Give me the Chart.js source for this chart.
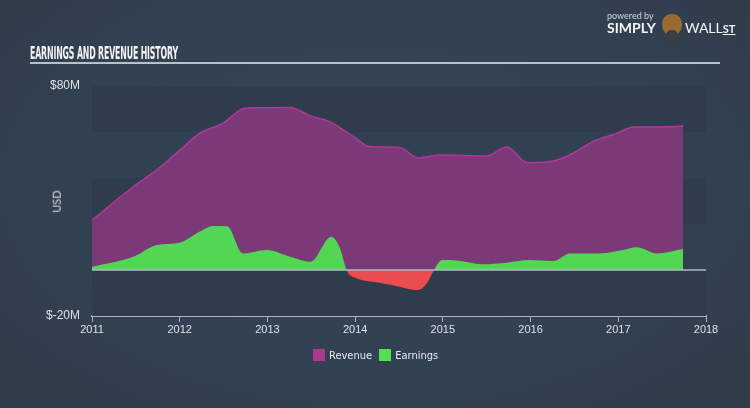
<!DOCTYPE html>
<html>
<head>
<meta charset="utf-8">
<title>Earnings and Revenue History</title>
<script src="https://cdn.jsdelivr.net/npm/chart.js"></script>
<style>
    html, body {
        margin: 0;
        padding: 0;
    }
    body {
        width: 750px;
        height: 408px;
        overflow: hidden;
        position: relative;
        background: radial-gradient(ellipse at 50% 45%, #374759 0%, #334252 55%, #2e3b49 100%);
        font-family: "Liberation Sans Narrow", "DejaVu Sans Condensed", sans-serif;
        color: #e2e6ea;
    }
    #wrap {
        position: absolute;
        left: 0;
        top: 0;
        width: 750px;
        height: 408px;
    }
    .title {
        position: absolute;
        left: 30px;
        top: 43px;
        font-size: 17px;
        font-weight: bold;
        color: #f2f4f6;
        white-space: nowrap;
        transform-origin: left top;
        letter-spacing: -0.3px;
    }
    .rule {
        position: absolute;
        left: 30px;
        top: 62px;
        width: 690px;
        height: 2px;
        background: #b9c2cc;
    }
    .usd {
        position: absolute;
        left: 45px;
        top: 195px;
        font-size: 11px;
        color: #d7dce2;
        transform: rotate(-90deg);
        transform-origin: center;
        font-family: "Lato", sans-serif;
    }
    .logo-small {
        position: absolute;
        left: 607px;
        top: 10px;
        font-size: 9px;
        color: #cfd5dc;
        font-family: "Lato", sans-serif;
    }
    .logo-simply {
        position: absolute;
        left: 607px;
        top: 19px;
        font-size: 14px;
        font-weight: bold;
        color: #f4f5f7;
        font-family: "Lato", sans-serif;
    }
    .logo-wall {
        position: absolute;
        left: 685px;
        top: 19px;
        font-size: 14px;
        color: #f4f5f7;
        font-family: "Lato", sans-serif;
    }
    .logo-wall b {
        text-decoration: underline;
        font-size: 11px;
    }
    .bull {
        position: absolute;
        left: 662px;
        top: 14px;
        width: 20px;
        height: 22px;
        border-radius: 45% 45% 50% 50%;
        background: #9a6a32;
    }
    .bull:after {
        content: "";
        position: absolute;
        left: 3px;
        top: 16px;
        width: 14px;
        height: 14px;
        border-radius: 50% 50% 20% 20%;
        background: #3a3e44;
    }
    .legend {
        position: absolute;
        top: 349px;
        left: 313px;
        font-size: 11px;
        color: #e6e9ed;
        white-space: nowrap;
    }
    .legend span.box {
        display: inline-block;
        width: 12px;
        height: 12px;
        vertical-align: -2px;
        margin-right: 4px;
    }
    .legend span.item {
        margin-right: 4px;
    }
</style>
</head>
<body>
<div id="wrap"><canvas id="chart" width="750" height="408"></canvas></div>
<div class="logo-small">powered by</div>
<div class="logo-simply">SIMPLY</div>
<div class="bull"></div>
<div class="logo-wall">WALL<b>ST</b></div>
<div class="title" id="title">EARNINGS AND REVENUE HISTORY</div>
<div class="rule"></div>
<div class="usd">USD</div>
<div class="legend">
    <span class="item"><span class="box" style="background:#b0378f"></span>Revenue</span>
    <span class="item"><span class="box" style="background:#55e052"></span>Earnings</span>
</div>

<script>
    // values in $M, x in decimal years
    const revenueYears = [2011.0, 2011.47, 2011.74, 2012.0, 2012.23, 2012.5, 2012.69, 2012.77, 2013.26, 2013.49,
        2013.71, 2013.98, 2014.17, 2014.51, 2014.72, 2014.97, 2015.5, 2015.73, 2015.96, 2016.26,
        2016.48, 2016.71, 2016.99, 2017.17, 2017.44, 2017.74];
    const revenueValues = [21.7, 36.2, 43.5, 52, 59.5, 64, 69.6, 70.4, 70.6, 67,
        64.5, 58, 53.6, 53.3, 48.7, 50, 49.6, 53.5, 46.7, 47.4,
        50.7, 55.8, 59.5, 62.2, 62.2, 62.6];

    const earningsYears = [2011.0, 2011.47, 2011.74, 2012.0, 2012.23, 2012.38, 2012.54, 2012.72, 2012.99, 2013.26,
        2013.49, 2013.73, 2013.82, 2013.91, 2014.01, 2014.27, 2014.42, 2014.72, 2014.82, 2014.89,
        2014.99, 2015.16, 2015.45, 2015.73, 2015.99, 2016.26, 2016.45, 2016.79, 2017.05, 2017.21,
        2017.44, 2017.74];
    const earningsValues = [1.4, 5.8, 10.9, 11.9, 16.7, 19.1, 19, 7.2, 8.7, 5.8,
        3.6, 14.5, 10.1, -0.7, -3.5, -5.5, -6.5, -8.7, -5.7, -0.7,
        4.3, 4.1, 2.5, 3.2, 4.3, 3.9, 7.2, 7.2, 8.7, 9.9,
        7.2, 9.1];

    const yearTicks = [2011, 2012, 2013, 2014, 2015, 2016, 2017, 2018];
    const yLabels = { 80: '$80M', '-20': '$-20M' };

    // squeeze title into its width
    const t = document.getElementById('title');
    t.style.transform = 'scaleX(' + (148 / t.offsetWidth) + ')';

    const bands = {
        id: 'bands',
        beforeDatasetsDraw(chart) {
            const { ctx, chartArea, scales } = chart;
            const y = scales.y;
            ctx.save();
            for (let v = 80; v > -20; v -= 20) {
                const top = y.getPixelForValue(v);
                const bottom = y.getPixelForValue(v - 20);
                ctx.fillStyle = (v === 80 || v === 40 || v === 0) ? '#2e3c4b' : '#324152';
                ctx.fillRect(chartArea.left, top, chartArea.right - chartArea.left, bottom - top);
            }
            ctx.restore();
        },
        afterDatasetsDraw(chart) {
            const { ctx, chartArea, scales } = chart;
            const zy = scales.y.getPixelForValue(0);
            ctx.save();
            ctx.strokeStyle = '#b0b9c3';
            ctx.lineWidth = 1.5;
            ctx.beginPath();
            ctx.moveTo(chartArea.left, zy);
            ctx.lineTo(chartArea.right, zy);
            ctx.stroke();
            ctx.restore();
        }
    };

    new Chart(document.getElementById('chart').getContext('2d'), {
        type: 'line',
        data: {
            datasets: [
                {
                    label: 'Revenue',
                    data: revenueYears.map((x, i) => ({ x: x, y: revenueValues[i] })),
                    borderColor: '#b2379a',
                    borderWidth: 1.5,
                    backgroundColor: '#7b3a77',
                    fill: 'origin',
                    pointRadius: 0,
                    cubicInterpolationMode: 'monotone',
                    order: 1
                },
                {
                    label: 'Earnings',
                    data: earningsYears.map((x, i) => ({ x: x, y: earningsValues[i] })),
                    borderWidth: 0,
                    borderColor: 'rgba(0,0,0,0)',
                    fill: { target: 'origin', above: '#52d653', below: '#ea4d50' },
                    pointRadius: 0,
                    cubicInterpolationMode: 'monotone',
                    order: 0
                }
            ]
        },
        options: {
            responsive: false,
            animation: false,
            layout: { padding: { left: 0, right: 44, top: 86, bottom: 0 } },
            plugins: {
                legend: { display: false },
                tooltip: { enabled: false }
            },
            scales: {
                x: {
                    type: 'linear',
                    min: 2011,
                    max: 2018,
                    afterFit(scale) { scale.height = 92; },
                    afterBuildTicks(scale) { scale.ticks = yearTicks.map(v => ({ value: v })); },
                    ticks: {
                        color: '#dde2e7',
                        font: { family: '"Liberation Sans Narrow", sans-serif', size: 11 },
                        padding: 1,
                        maxRotation: 0,
                        callback: v => String(v)
                    },
                    grid: {
                        drawOnChartArea: false,
                        color: '#aab4bf',
                        tickLength: 6,
                        lineWidth: 1
                    },
                    border: { display: true, color: '#aab4bf', width: 2 }
                },
                y: {
                    min: -20,
                    max: 80,
                    afterFit(scale) { scale.width = 92; },
                    ticks: {
                        stepSize: 20,
                        color: '#dde2e7',
                        font: { family: '"Liberation Sans Narrow", sans-serif', size: 12 },
                        padding: 12,
                        callback: v => yLabels[v] || ''
                    },
                    grid: { display: false, drawTicks: false },
                    border: { display: false }
                }
            }
        },
        plugins: [bands]
    });
</script>
</body>
</html>
